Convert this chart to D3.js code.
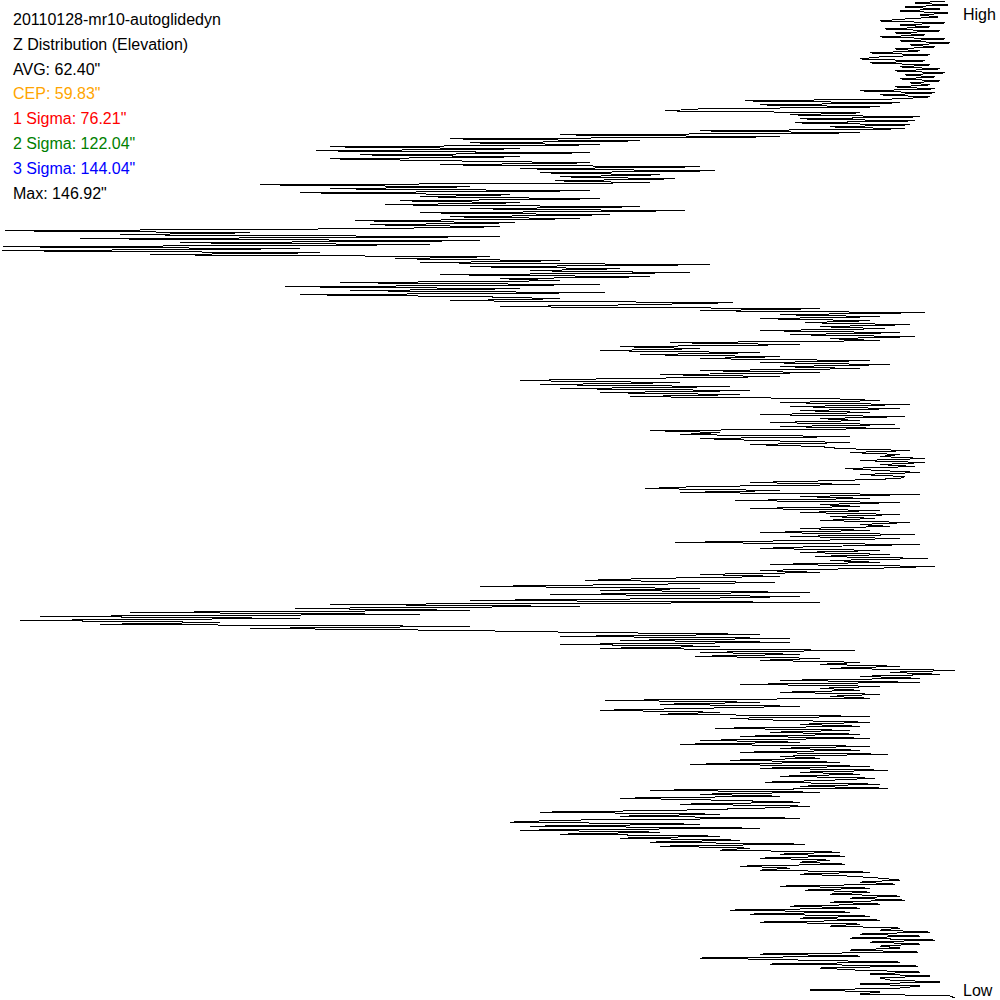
<!DOCTYPE html>
<html><head><meta charset="utf-8">
<script src="https://cdn.jsdelivr.net/npm/d3@7"></script>
<style>body{margin:0;background:#fff}svg{display:block}text{font-family:"Liberation Sans",Arial,sans-serif;font-size:16px}</style>
</head><body><svg id="c" width="1000" height="1000"></svg>
<script>
const labels = ["20110128-mr10-autoglidedyn","Z Distribution (Elevation)","AVG: 62.40\"","CEP: 59.83\"","1 Sigma: 76.21\"","2 Sigma: 122.04\"","3 Sigma: 144.04\"","Max: 146.92\""];
const labelColors = ["#000","#000","#000","#FFA500","#FF0000","#008000","#0000FF","#000"];
const axisLabels = ["High","Low"];
// horizontal position of each sample, top (High) to bottom (Low)
const values = [
945,915,948,905,940, 900,948,920,938,905, 880,945,900,930,885, 940,895,925,880,945,
900,950,910,935,895, 920,870,930,880,860, 925,870,930,900,940, 895,945,905,935,900,
940,910,930,895,935, 860,935,880,930,900, 745,900,760,880,700, 665,860,790,920,800,
915,795,910,830,905, 700,860,560,780,450, 640,470,600,330,520, 316,590,360,520,330,
450,590,440,700,520, 715,540,660,560,675, 555,650,260,470,330, 590,300,510,420,600,
400,520,385,640,470, 685,420,610,450,580, 355,515,370,500,360, 5,250,120,500,80,
480,180,430,3,300, 2,320,150,490,395, 560,420,710,470,620, 530,690,440,650,500,
560,340,600,285,520, 350,605,300,480,560, 450,733,640,500,820, 700,925,780,880,760,
870,805,910,820,885, 760,900,790,915,830, 880,670,800,620,700, 600,760,640,780,700,
870,760,890,780,860, 700,820,660,780,615, 520,680,540,730,560, 750,600,740,630,830,
880,780,910,790,900, 800,870,760,905,820, 860,770,895,780,900, 650,720,680,850,700,
760,850,750,820,840, 910,850,900,880,925, 860,925,880,915,845, 880,920,860,905,900,
840,750,860,700,645, 780,680,920,800,870, 735,900,820,860,750, 880,800,900,830,875,
820,910,860,890,800, 870,760,915,790,900, 810,675,920,820,760, 880,800,890,815,928,
830,880,770,935,870, 760,820,700,780,650, 585,775,640,480,700, 600,810,550,800,700,
470,820,330,580,295, 470,130,420,40,300, 20,220,100,470,250, 455,580,760,560,790,
620,790,560,720,600, 855,700,800,695,820, 760,860,820,900,830, 955,890,940,860,920,
780,920,740,880,820, 860,780,880,830,870, 605,760,660,800,700, 600,720,660,870,730,
780,870,800,860,715, 850,770,860,740,870, 700,800,680,870,780, 860,740,888,780,820,
730,840,690,870,760, 888,800,860,780,875, 830,765,880,800,888, 650,820,700,780,620,
720,800,680,810,760, 680,540,720,620,800, 560,510,700,530,760, 520,660,560,720,620,
740,650,805,660,750, 720,840,780,845,760, 830,800,845,740,790, 760,870,800,850,880,
900,860,895,780,870, 805,870,830,900,850, 905,830,880,790,860, 730,850,750,870,800,
880,760,860,830,900, 880,930,860,920,850, 935,870,920,880,900, 850,918,760,860,700,
800,900,770,918,820, 855,920,870,930,880, 890,940,860,920,900, 810,880,860,950,955
];
const svg = d3.select("#c");
const x = d3.scaleLinear().domain([0,1000]).range([0,1000]);
const y = d3.scaleLinear().domain([0, values.length-1]).range([1, 998]);
const line = d3.line().x(d=>x(d)).y((d,i)=>y(i));
svg.append("path").datum(values).attr("d", line).attr("fill","none").attr("stroke","#000")
  .attr("stroke-width",1).attr("shape-rendering","crispEdges");
svg.selectAll("text.lbl").data(labels).join("text").attr("class","lbl")
  .attr("x",13).attr("y",(d,i)=>25+i*24.8).attr("fill",(d,i)=>labelColors[i]).text(d=>d);
svg.append("text").attr("x",963).attr("y",20).attr("fill","#000").text(axisLabels[0]);
svg.append("text").attr("x",963).attr("y",996).attr("fill","#000").text(axisLabels[1]);
</script></body></html>
